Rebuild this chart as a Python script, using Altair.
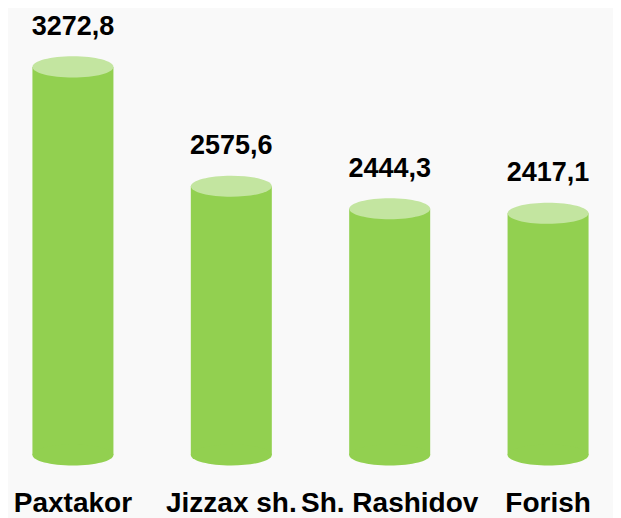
import altair as alt
import pandas as pd

districts = ["Paxtakor", "Jizzax sh.", "Sh. Rashidov", "Forish"]
values = [3272.8, 2575.6, 2444.3, 2417.1]

df = pd.DataFrame({"district": districts, "value": values})

SIDE = "#92d050"
TOP = "#c3e5a0"
ELLIPSE = ("M -1 0 C -1 -0.1436 -0.5523 -0.26 0 -0.26 "
           "C 0.5523 -0.26 1 -0.1436 1 0 "
           "C 1 0.1436 0.5523 0.26 0 0.26 "
           "C -0.5523 0.26 -1 0.1436 -1 0 Z")

x = alt.X("district:N", sort=districts, axis=None,
          scale=alt.Scale(paddingInner=0.5, paddingOuter=0.16))
yscale = alt.Scale(domain=[1005, 3617], zero=False, nice=False)
y = alt.Y("value:Q", scale=yscale, axis=None)

base = alt.Chart(df)

bars = base.mark_bar(size=81, color=SIDE, clip=True).encode(x=x, y=y)

bottom = base.mark_point(shape=ELLIPSE, size=6561, filled=True, opacity=1,
                         color=SIDE, strokeWidth=0).encode(
    x=x, y=alt.value("height"))

top = base.mark_point(shape=ELLIPSE, size=6561, filled=True, opacity=1,
                      color=TOP, strokeWidth=0).encode(x=x, y=y)

value_text = base.transform_calculate(
    label="replace(format(datum.value, '.1f'), '.', ',')"
).mark_text(font="Liberation Sans", fontWeight="bold", fontSize=27,
            color="#000000", baseline="alphabetic", dy=-32).encode(
    x=x, y=y, text="label:N")

cat_text = base.mark_text(font="Liberation Sans", fontWeight="bold", fontSize=28,
                          color="#000000", baseline="alphabetic", dy=57).encode(
    x=x, y=alt.value("height"), text="district:N")

chart = alt.layer(bars, bottom, top, value_text, cat_text).properties(
    width=605, height=447,
    autosize=alt.AutoSizeParams(type="none"),
    padding={"left": 0, "top": 0, "right": 0, "bottom": 63},
    background="#f9f9f9",
).configure_view(strokeWidth=0)

chart.save("out.html", embed_options={"renderer": "svg", "actions": False})
